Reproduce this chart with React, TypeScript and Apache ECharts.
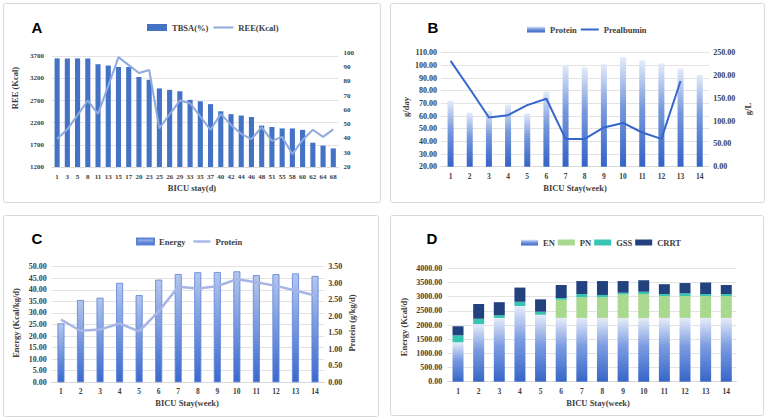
import React, { useEffect, useRef } from "react";
import * as echarts from "echarts";

// ---------- Data ----------
const daysA = ["1","3","5","8","11","13","15","17","20","23","25","26","29","33","35","37","40","42","44","46","48","51","55","58","60","62","64","68"];
const tbsaA = [96,96,96,96,92,91,90,90,83,81,75,74,73,67,66,64,59,57,56,55,49,48,47,47,46,37,35,33];
const reeA = [1830,2050,2370,2700,2400,3030,3680,3500,3320,3390,2070,2390,2700,2640,2340,2040,2400,2150,1950,1830,2100,1790,1880,1490,1810,2040,1880,2050];

const weeks = ["1","2","3","4","5","6","7","8","9","10","11","12","13","14"];
const proteinB = [72,62.5,64,69,62,79.5,100.5,98.5,101,106.5,104,101.5,97.5,92.5];
const prealbuminB = [232,171,108,113,135,149,61,61,86,96,75,61,188,null];

const energyC = [25.5,35.6,36.6,43,37.7,44.4,46.8,47.6,47.7,48,46.4,46.8,47.1,46];
const proteinC = [1.9,1.56,1.6,1.78,1.54,2.15,2.89,2.84,2.91,3.12,3.03,2.92,2.78,2.63];

const enD = [1390,2030,2250,2670,2360,2250,2250,2250,2250,2250,2250,2250,2250,2250];
const pnD = [0,0,0,0,0,640,730,730,830,845,770,770,770,770];
const gssD = [245,190,95,150,110,60,110,80,60,80,70,95,70,70];
const crrtD = [320,520,460,500,435,460,460,490,410,400,350,365,410,320];

// ---------- Styles ----------
const SERIF = "'Liberation Serif', 'Times New Roman', serif";
const SANS = "'Liberation Sans', Arial, sans-serif";
const TXT = "#404040";
const GRID = "#e3e3e3";
const LINE_ICON_20 = "path://M0,0L20,0L20,2L0,2Z";
const LINE_ICON_18 = "path://M0,0L18,0L18,2L0,2Z";
const LINE_ICON_17 = "path://M0,0L17,0L17,2.4L0,2.4Z";

const tick = (size: number, margin: number, extra: any = {}) => ({
  fontFamily: SERIF, fontWeight: "bold", fontSize: size, color: TXT, margin, ...extra,
});

const border = (x: number, y: number, w: number, h: number) => ({
  type: "rect", silent: true,
  shape: { x: x + 0.5, y: y + 0.5, width: w, height: h, r: 2 },
  style: { fill: "none", stroke: "#d9d9d9", lineWidth: 1 },
});

const letter = (t: string, x: number, y: number) => ({
  type: "text", x, y, silent: true,
  style: { text: t, fontFamily: SANS, fontWeight: "bold", fontSize: 15, fill: "#000", align: "center", verticalAlign: "middle" },
});

const title = (t: string, x: number, y: number, rotate = false) => ({
  type: "text", x, y, rotation: rotate ? Math.PI / 2 : 0, silent: true,
  style: { text: t, fontFamily: SERIF, fontWeight: "bold", fontSize: 8.5, fill: TXT, align: "center", verticalAlign: "middle" },
});

const legendText = { fontFamily: SERIF, fontWeight: "bold", fontSize: 8.5, color: TXT };

const grad = (stops: [number, string][]) => ({
  type: "linear", x: 0, y: 0, x2: 0, y2: 1,
  colorStops: stops.map(([offset, color]) => ({ offset, color })),
});

const catAxis = (data: string[], size: number, margin: number) => ({
  type: "category", data,
  axisTick: { show: false },
  axisLine: { lineStyle: { color: "#d9d9d9" } },
  axisLabel: tick(size, margin, { interval: 0 }),
});

const fix = (n: number) => (v: number) => v.toFixed(n);
const plain = (v: number) => String(v);

// ---------- Options ----------
const optionA: any = {
  animation: false,
  grid: { left: 52, right: 44.6, top: 52.7, bottom: 43 },
  legend: {
    left: 142, top: 18, itemWidth: 20, itemHeight: 7, itemGap: 5, textStyle: legendText, symbolKeepAspect: true,
    data: [{ name: "TBSA(%)", icon: "rect" }, { name: "REE(Kcal)", icon: LINE_ICON_20 }],
  },
  xAxis: catAxis(daysA, 7, 6),
  yAxis: [
    { type: "value", min: 1200, max: 3780, interval: 500,
      axisLabel: tick(7, 8, { showMaxLabel: false, formatter: plain }),
      splitLine: { showMaxLine: false, lineStyle: { color: GRID } } },
    { type: "value", min: 20, max: 100, interval: 10,
      axisLabel: tick(7, 5, { formatter: plain }), splitLine: { show: false } },
  ],
  graphic: [
    border(3, 3, 377, 199), letter("A", 37, 27),
    title("REE (Kcal)", 15, 88, true), title("BICU stay(d)", 192, 188),
  ],
  series: [
    { name: "TBSA(%)", type: "bar", yAxisIndex: 1, data: tbsaA, barWidth: "50%", itemStyle: { color: "#4472C4" } },
    { name: "REE(Kcal)", type: "line", yAxisIndex: 0, data: reeA, symbol: "none",
      lineStyle: { color: "#8eaadf", width: 2 }, itemStyle: { color: "#8eaadf" } },
  ],
};

const optionB: any = {
  animation: false,
  grid: { left: 58, right: 57.7, top: 52.7, bottom: 43.3 },
  legend: {
    left: 139, top: 20, itemWidth: 18, itemHeight: 6, itemGap: 4, textStyle: legendText, symbolKeepAspect: true,
    data: [{ name: "Protein", icon: "rect" }, { name: "Prealbumin", icon: LINE_ICON_18 }],
  },
  xAxis: catAxis(weeks, 7.5, 6),
  yAxis: [
    { type: "value", min: 20, max: 110, interval: 10,
      axisLabel: tick(8, 4, { formatter: fix(2) }),
      splitLine: { lineStyle: { color: GRID } } },
    { type: "value", min: 0, max: 250, interval: 50,
      axisLabel: tick(8, 4, { formatter: fix(2) }), splitLine: { show: false } },
  ],
  graphic: [
    border(7, 3, 374, 199), letter("B", 50, 27),
    title("g/day", 23, 107, true), title("g/L", 365, 109, true), title("BICU Stay(week)", 192, 188),
  ],
  series: [
    { name: "Protein", type: "bar", yAxisIndex: 0, data: proteinB, barWidth: 6,
      itemStyle: { color: grad([[0, "#e4ebf9"], [0.45, "#7698dc"], [1, "#3463c6"]]) } },
    { name: "Prealbumin", type: "line", yAxisIndex: 1, data: prealbuminB, symbol: "none",
      lineStyle: { color: "#3566cc", width: 2 }, itemStyle: { color: "#3566cc" } },
  ],
};

const optionC: any = {
  animation: false,
  grid: { left: 51.2, right: 58.2, top: 56.7, bottom: 36.7 },
  legend: {
    left: 131, top: 22, itemWidth: 17, itemHeight: 6, itemGap: 8, textStyle: legendText, symbolKeepAspect: true,
    data: [{ name: "Energy", icon: "rect" }, { name: "Protein", icon: LINE_ICON_17 }],
  },
  xAxis: catAxis(weeks, 7.5, 5),
  yAxis: [
    { type: "value", min: 0, max: 50, interval: 5,
      axisLabel: tick(8, 4.5, { formatter: fix(2) }),
      splitLine: { lineStyle: { color: GRID } } },
    { type: "value", min: 0, max: 3.5, interval: 0.5,
      axisLabel: tick(8, 3.5, { formatter: fix(2) }), splitLine: { show: false } },
  ],
  graphic: [
    border(3, 5, 375, 201), letter("C", 37, 28),
    title("Energy (Kcal/kg/d)", 16, 113, true), title("Protein (g/kg/d)", 352, 113, true),
    title("BICU Stay(week)", 187, 193),
  ],
  series: [
    { name: "Energy", type: "bar", yAxisIndex: 0, data: energyC, barWidth: 7,
      itemStyle: { color: grad([[0, "#b3c6ee"], [1, "#3a69cf"]]), borderColor: "#5d82d6", borderWidth: 0.8 } },
    { name: "Protein", type: "line", yAxisIndex: 1, data: proteinC, symbol: "none",
      lineStyle: { color: "#a7b5e6", width: 2.5 }, itemStyle: { color: "#a7b5e6" } },
  ],
};

const optionD: any = {
  animation: false,
  grid: { left: 64.7, right: 30.4, top: 58.3, bottom: 37.3 },
  legend: {
    left: 133, top: 23, itemWidth: 17, itemHeight: 6, itemGap: 3, textStyle: legendText,
    data: [{ name: "EN", icon: "rect" }, { name: "PN", icon: "rect" }, { name: "GSS", icon: "rect" }, { name: "CRRT", icon: "rect" }],
  },
  xAxis: catAxis(weeks, 7.5, 5.5),
  yAxis: {
    type: "value", min: 0, max: 4000, interval: 500,
    axisLabel: tick(8, 5.4, { formatter: fix(2) }),
    splitLine: { lineStyle: { color: GRID } },
  },
  graphic: [
    border(7, 5, 373, 200), letter("D", 49, 28),
    title("Energy (Kcal/d)", 21, 117, true), title("BICU Stay(week)", 215, 193),
  ],
  series: [
    { name: "EN", type: "bar", stack: "t", data: enD, barWidth: 11,
      itemStyle: { color: grad([[0, "#e6ecf9"], [0.45, "#7a9be0"], [1, "#3766c8"]]) } },
    { name: "PN", type: "bar", stack: "t", data: pnD, barWidth: 11, itemStyle: { color: "#a9d98f" } },
    { name: "GSS", type: "bar", stack: "t", data: gssD, barWidth: 11, itemStyle: { color: "#38c6b3" } },
    { name: "CRRT", type: "bar", stack: "t", data: crrtD, barWidth: 11, itemStyle: { color: "#22427f" } },
  ],
};

// ---------- Components ----------
function Panel({ left, top, width, height, option }: { left: number; top: number; width: number; height: number; option: any }) {
  const ref = useRef<HTMLDivElement>(null);
  useEffect(() => {
    if (!ref.current) return;
    const chart = echarts.init(ref.current, undefined, { renderer: "svg" });
    chart.setOption(option);
    return () => chart.dispose();
  }, [option]);
  return <div ref={ref} style={{ position: "absolute", left, top, width, height }} />;
}

export default function App() {
  return (
    <div style={{ position: "absolute", left: 0, top: 0, width: 767, height: 419, background: "#fff", overflow: "hidden" }}>
      <Panel left={0} top={0} width={383} height={210} option={optionA} />
      <Panel left={383} top={0} width={384} height={210} option={optionB} />
      <Panel left={0} top={210} width={383} height={209} option={optionC} />
      <Panel left={383} top={210} width={384} height={209} option={optionD} />
    </div>
  );
}
